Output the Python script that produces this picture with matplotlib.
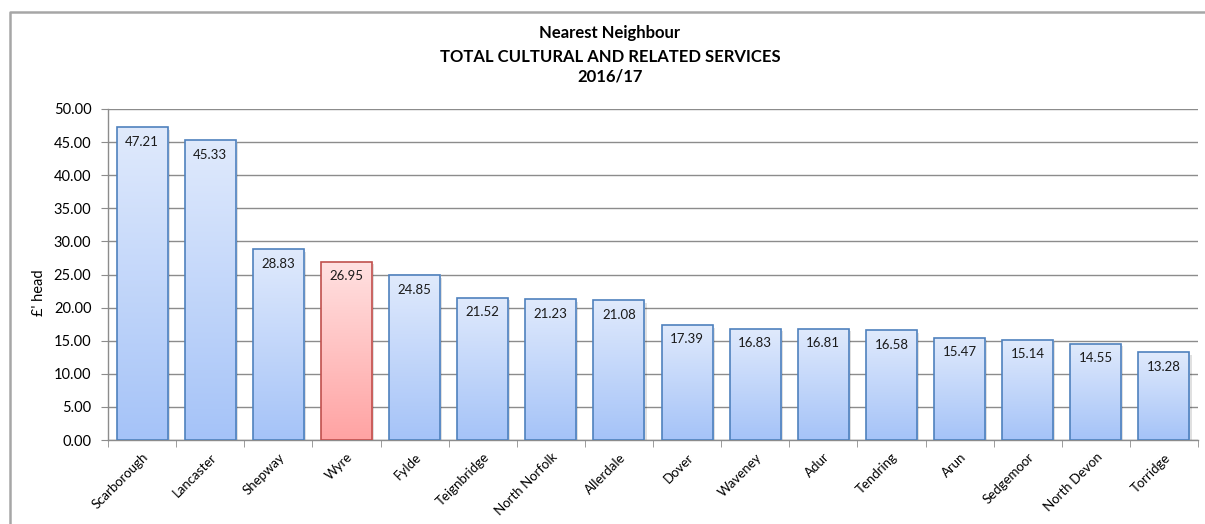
import numpy as np
import matplotlib
matplotlib.use("Agg")
import matplotlib.pyplot as plt
from matplotlib.lines import Line2D
from matplotlib.colors import LinearSegmentedColormap
from matplotlib.patches import Rectangle

plt.rcParams['font.family'] = ['Lato', 'DejaVu Sans']

councils = ["Scarborough", "Lancaster", "Shepway", "Wyre", "Fylde", "Teignbridge",
            "North Norfolk", "Allerdale", "Dover", "Waveney", "Adur", "Tendring",
            "Arun", "Sedgemoor", "North Devon", "Torridge"]
cost_per_head = [47.21, 45.33, 28.83, 26.95, 24.85, 21.52, 21.23, 21.08,
                 17.39, 16.83, 16.81, 16.58, 15.47, 15.14, 14.55, 13.28]
highlight = "Wyre"
title_lines = ["Nearest Neighbour", "TOTAL CULTURAL AND RELATED SERVICES", "2016/17"]
y_ticks = [0, 5, 10, 15, 20, 25, 30, 35, 40, 45, 50]

W, H = 1205, 524
fig = plt.figure(figsize=(W / 100, H / 100), dpi=100)
ax = fig.add_axes([108 / W, 1 - 440 / H, (1198 - 108) / W, (440 - 109) / H])

blue_cmap = LinearSegmentedColormap.from_list("blue", ["#a5c3f8", "#e0eafc"])
red_cmap = LinearSegmentedColormap.from_list("red", ["#ffa3a3", "#ffe1e1"])

x = np.arange(len(councils))
bar_w = 0.75
ax.set_xlim(-0.5, len(councils) - 0.5)
ax.set_ylim(0, 50)

grad = np.linspace(0, 1, 256).reshape(-1, 1)
for xi, name, val in zip(x, councils, cost_per_head):
    is_hl = name == highlight
    cmap = red_cmap if is_hl else blue_cmap
    edge = "#c0504d" if is_hl else "#4f81bd"
    # soft drop shadow
    shadow = Rectangle((xi - bar_w / 2 + 0.03, -0.4), bar_w, val, facecolor="#000000",
                       alpha=0.12, edgecolor="none", zorder=2)
    ax.add_patch(shadow)
    bar = ax.bar(xi, val, width=bar_w, facecolor="none", edgecolor=edge,
                 linewidth=1.2, zorder=4)[0]
    img = ax.imshow(grad, cmap=cmap, origin="lower", aspect="auto",
                    extent=(xi - bar_w / 2, xi + bar_w / 2, 0, val), zorder=3)
    img.set_clip_path(bar)
    ax.text(xi, val - 1.3, f"{val:.2f}", ha="center", va="top", fontsize=9.5,
            color="#1a1a1a", zorder=5)

ax.set_yticks(y_ticks)
ax.set_yticklabels([f"{v:.2f}" for v in y_ticks], fontsize=10.5)
ax.yaxis.grid(True, color="#8c8c8c", linewidth=1.0, zorder=0)
ax.set_axisbelow(True)

ax.set_xticks(x)
ax.set_xticklabels(councils, rotation=45, ha="right", rotation_mode="anchor", fontsize=9.5)
ax.set_xticks(np.arange(-0.5, len(councils), 1.0), minor=True)
ax.tick_params(axis="x", which="major", length=0, pad=8)
ax.tick_params(axis="x", which="minor", length=5, color="#8c8c8c", direction="out")
ax.tick_params(axis="y", length=5, color="#8c8c8c", direction="out", pad=7)

for side in ["top", "right"]:
    ax.spines[side].set_visible(False)
for side in ["left", "bottom"]:
    ax.spines[side].set_color("#8c8c8c")
    ax.spines[side].set_linewidth(1.0)

# y-axis title
fig.text(39 / W, 1 - 293 / H, "£' head", rotation=90, ha="center", va="center",
         fontsize=10.5)

for txt, ypix in zip(title_lines, [33, 57, 76]):
    fig.text(610 / W, 1 - ypix / H, txt, ha="center", va="center",
             fontsize=12, fontweight="bold", color="#000000")

# chart area frame
fig.add_artist(Line2D([10 / W, 10 / W, 1.0], [0, 1 - 12 / H, 1 - 12 / H],
                      transform=fig.transFigure, color="#a6a6a6", linewidth=1.8))

fig.savefig("out.png", dpi=100, facecolor="white")
